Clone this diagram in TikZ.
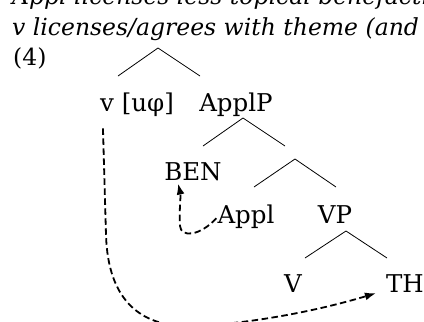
\documentclass[tikz,border=0pt]{standalone}
\usepackage{fontspec}
\setmainfont{DejaVu Serif}
\usetikzlibrary{arrows.meta}
\usetikzlibrary{calc}

\tikzset{
  lbl/.style={anchor=base, inner sep=0pt, font=\fontsize{24.5}{28}\selectfont},
  hdr/.style={anchor=base west, inner sep=0pt, font=\fontsize{23.5}{27}\selectfont\itshape},
  branch/.style={line width=0.8pt},
  agree/.style={dash pattern=on 6.5pt off 3.5pt, line width=1.8pt, -{Latex[length=11pt,width=8pt]}}
}

\begin{document}
\begin{tikzpicture}[x=1pt,y=-1pt]
      \useasboundingbox (0,0) rectangle (424,322);
      \clip (0,0) rectangle (424,322);
      \node[hdr] (line1) at (12,4) {Appl licenses less topical benefactive};
      \node[hdr] (line2) at (12,35) {v licenses/agrees with theme (and};
      \node[hdr, font=\fontsize{23.5}{27}\selectfont] (ex) at (13,65) {(4)};
      % labels
      \node[lbl] (vphi) at (137,111) {v [uφ]};
      \node[lbl] (applp) at (236,111) {ApplP};
      \node[lbl] (ben) at (193,180) {BEN};
      \node[lbl] (appl) at (246,223) {Appl};
      \node[lbl] (vp) at (335,223) {VP};
      \node[lbl] (verb) at (293,292) {V};
      \node[lbl] (th) at (405,292) {TH};
      % branches
      \coordinate (top) at (158,48);
      \coordinate (topl) at (118,76);
      \coordinate (topr) at (200,76);
      \coordinate (ap) at (243,118);
      \coordinate (apl) at (203,146);
      \coordinate (apr) at (285,146);
      \coordinate (ab) at (295,159);
      \coordinate (abl) at (254,187);
      \coordinate (abr) at (336,187);
      \coordinate (vpt) at (346,231);
      \coordinate (vpl) at (305,258);
      \coordinate (vpr) at (387,258);
      \draw[branch] (topl) -- (top) -- (topr);
      \draw[branch] (apl) -- (ap) -- (apr);
      \draw[branch] (abl) -- (ab) -- (abr);
      \draw[branch] (vpl) -- (vpt) -- (vpr);
      % agreement arrows
      \coordinate (vfoot) at ($(vphi.south west)+(3,12)$);
      \coordinate (thend) at ($(th.south west)+(-10,1)$);
      \draw[agree] (vfoot) -- (106,235) .. controls (108,300) and (140,330) .. (200,326)
            .. controls (260,322) and (320,310) .. (thend);
      \draw[agree] ($(appl.west)+(-1,2)$) .. controls (200,236) and (181,238) .. (180,226)
            .. controls (179,210) and (181,196) .. ($(ben.south west)+(14,3)$);
    \end{tikzpicture}
\end{document}
